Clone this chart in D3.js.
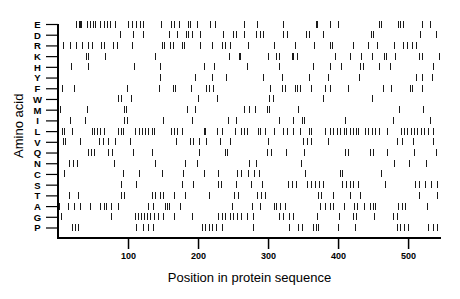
<!DOCTYPE html>
<html>
<head>
<meta charset="utf-8">
<script src="https://cdn.jsdelivr.net/npm/d3@7"></script>
<style>
  html, body { margin: 0; padding: 0; background: #fff; }
  svg { display: block; }
  text { font-family: Arial, "Liberation Sans", Helvetica, sans-serif; fill: #000; }
</style>
</head>
<body>
<svg id="chart" width="460" height="299"></svg>
<script>
// ---- data (positions of each amino acid along the sequence) ----
const aminoAcids = ["E","D","R","K","H","Y","F","W","M","I","L","V","Q","N","C","S","T","A","G","P"];
const seqLength = 547;
const xTicks = [100, 200, 300, 400, 500];

const posE = [26,30,31,33,42,46,50,53,60,65,70,74,81,100,105,112,117,122,147,162,165,173,186,189,198,217,224,265,284,321,368,370,388,400,459,462,485,489,493,520,531];
const posD = [88,107,121,158,170,183,186,191,203,235,250,254,265,283,289,293,321,327,354,358,378,447,450,517,540];
const posR = [7,17,26,34,43,48,61,65,78,84,105,148,151,160,164,177,180,203,220,234,239,246,272,309,339,366,388,391,421,443,456,480,493,498,505,511];
const posK = [40,43,67,139,244,258,260,300,312,316,334,336,341,396,417,433,448,465,468,481,515,520,544];
const posH = [19,43,108,145,208,223,270,316,364,389,404,431,436,459,474,536];
const posY = [146,196,220,240,293,320,359,386,430,512,520,534];
const posF = [6,23,98,144,164,167,190,211,216,221,303,320,324,339,342,346,361,382,389,414,464,476,503,506,520];
const posW = [86,90,104,200,227,302,307,379,448];
const posM = [3,41,94,97,184,196,265,273,282,298,302,343,487,522];
const posI = [17,39,94,98,150,191,243,254,315,336,348,352,410,479,531];
const posL = [5,9,20,48,51,55,60,65,86,90,93,110,115,120,124,129,134,137,162,166,170,177,208,210,227,234,253,261,265,270,286,289,296,308,322,327,336,345,358,362,381,389,393,398,403,408,412,417,422,426,429,439,443,448,453,458,470,490,494,499,504,509,513,518,523,529,535];
const posV = [7,10,31,59,64,71,81,103,169,188,193,202,211,231,245,300,350,356,362,385,484,491,507,536];
const posQ = [43,47,51,72,77,107,134,202,239,242,299,304,325,351,410,414,445,450,470,509,540];
const posN = [16,21,27,80,139,181,199,273,283,347,480,502,525];
const posC = [8,93,115,149,179,208,228,255,261,271,280,287,353,403,406,462];
const posS = [90,112,177,193,229,233,254,276,292,329,334,340,356,361,367,373,379,406,412,417,422,428,467,510,515,524,533,541];
const posT = [15,29,90,94,134,139,145,150,165,181,215,251,257,284,290,296,372,376,393,417,431,515,541];
const posA = [2,14,23,32,45,60,65,69,75,86,129,136,153,156,159,174,248,277,289,308,311,317,324,374,381,389,393,408,423,427,437,446,450,453,486,491,496,527];
const posG = [4,76,110,114,118,123,127,131,137,143,150,165,191,229,234,239,246,250,256,262,270,278,315,322,330,335,370,402,422,426,451,479,484];
const posP = [20,24,29,111,122,129,136,205,210,215,220,226,234,278,330,343,348,364,368,371,400,424,484,489,494,500,529,536,541];

const positionsByAA = {
  E: posE, D: posD, R: posR, K: posK, H: posH, Y: posY, F: posF, W: posW, M: posM, I: posI,
  L: posL, V: posV, Q: posQ, N: posN, C: posC, S: posS, T: posT, A: posA, G: posG, P: posP
};
const marks = [];
aminoAcids.forEach(aa => positionsByAA[aa].forEach(p => marks.push({ aa, p })));

(function draw() {
  const svg = d3.select("#chart");
  const mLeft = 58, mRight = 441, mTop = 24, rowsBottom = 227.5, mBottom = 238;

  const x = d3.scaleLinear().domain([0, seqLength]).range([mLeft, mRight]);
  const y = d3.scalePoint().domain(aminoAcids).range([mTop, rowsBottom]);
  const markHalf = 3.5;

  // marks
  svg.append("g")
    .selectAll("line")
    .data(marks)
    .join("line")
    .attr("x1", d => Math.round(x(d.p)) + 0.5)
    .attr("x2", d => Math.round(x(d.p)) + 0.5)
    .attr("y1", d => y(d.aa) - markHalf)
    .attr("y2", d => y(d.aa) + markHalf)
    .attr("stroke", "#1a1a1a")
    .attr("stroke-width", 1)
    .attr("shape-rendering", "crispEdges");

  // y axis
  const yAxis = svg.append("g")
    .attr("transform", `translate(${mLeft},0)`)
    .call(d3.axisLeft(y).tickSize(12).tickSizeOuter(0).tickPadding(3));
  yAxis.select(".domain").remove();
  yAxis.selectAll(".tick line").attr("stroke", "#000").attr("stroke-width", 1.2);
  yAxis.selectAll(".tick text")
    .attr("font-size", 9.5)
    .attr("font-family", "Arial, 'Liberation Sans', sans-serif")
    .attr("font-weight", "bold")
    .attr("text-anchor", "middle")
    .attr("x", -20.5)
    .attr("dy", "0.36em");

  // x axis
  const xAxis = svg.append("g")
    .attr("transform", `translate(0,${mBottom})`)
    .call(d3.axisBottom(x).tickValues(xTicks).tickSize(11).tickSizeOuter(0).tickPadding(4));
  xAxis.select(".domain").remove();
  xAxis.selectAll(".tick line").attr("stroke", "#000").attr("stroke-width", 1.5);
  xAxis.selectAll(".tick text")
    .attr("font-size", 9)
    .attr("font-weight", "bold")
    .attr("font-family", "Arial, 'Liberation Sans', sans-serif");

  // axis lines (from scales)
  svg.append("line")
    .attr("x1", x(0)).attr("x2", x(0))
    .attr("y1", y(aminoAcids[0])).attr("y2", mBottom)
    .attr("stroke", "#000").attr("stroke-width", 2);
  svg.append("line")
    .attr("x1", x(0) - 1).attr("x2", x(seqLength))
    .attr("y1", mBottom).attr("y2", mBottom)
    .attr("stroke", "#000").attr("stroke-width", 2);

  // titles
  svg.append("text")
    .attr("x", (mLeft + mRight) / 2)
    .attr("y", 282)
    .attr("text-anchor", "middle")
    .attr("font-size", 13)
    .text("Position in protein sequence");

  svg.append("text")
    .attr("transform", `translate(23,${(mTop + rowsBottom) / 2}) rotate(-90)`)
    .attr("text-anchor", "middle")
    .attr("font-size", 13)
    .text("Amino acid");
})();
</script>
</body>
</html>
